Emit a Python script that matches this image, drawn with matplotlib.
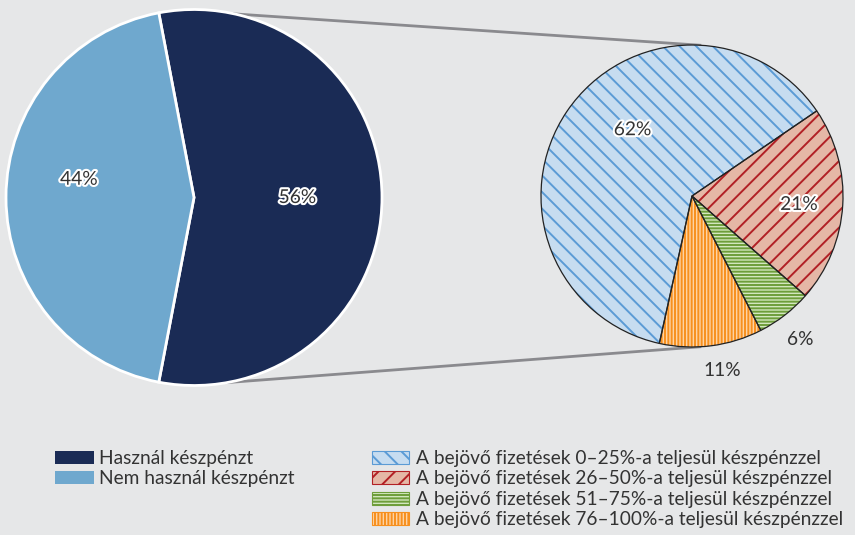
import matplotlib
matplotlib.use("Agg")
import matplotlib.pyplot as plt
import matplotlib.patheffects as pe
from matplotlib.patches import Patch
import numpy as np

plt.rcParams['font.family'] = ['Lato', 'DejaVu Sans']
plt.rcParams['hatch.linewidth'] = 1.4

# ---- data ----
main_labels = ["Használ készpénzt", "Nem használ készpénzt"]
main_values = [56, 44]
sub_labels = ["A bejövő fizetések 0–25%-a teljesül készpénzzel",
              "A bejövő fizetések 26–50%-a teljesül készpénzzel",
              "A bejövő fizetések 51–75%-a teljesül készpénzzel",
              "A bejövő fizetések 76–100%-a teljesül készpénzzel"]
sub_values = [62, 21, 6, 11]

# ---- style ----
BG = "#E6E7E8"
main_colors = ["#1A2B55", "#6FA8CE"]
sub_faces = ["#C6DCF0", "#E5B7A6", "#D2E6BE", "#FDD3A4"]
sub_hatch_colors = ["#5B9BD5", "#B22025", "#6E9E3A", "#F7901E"]
sub_hatches = ["\\\\", "//", "-----", "|||||"]
TXT = "#333333"
FS = 13.8

W, H = 855, 535
fig = plt.figure(figsize=(W / 100, H / 100), dpi=100, facecolor=BG)
ax = fig.add_axes([0, 0, 1, 1])
ax.set_facecolor(BG)

c1, r1 = (194, 337.5), 188
c2, r2 = (692, 339), 151

# left pie
wl, _ = ax.pie(main_values, colors=main_colors, startangle=-100.8, counterclock=True,
               center=c1, radius=r1, wedgeprops=dict(edgecolor="white", linewidth=2))
# right pie
wr, _ = ax.pie(sub_values, colors=sub_faces, startangle=257.5, counterclock=False,
               center=c2, radius=r2, wedgeprops=dict(linewidth=0))
for w, hc, h in zip(wr, sub_hatch_colors, sub_hatches):
    w.set_edgecolor(hc)
    w.set_hatch(h)
    w.set_linewidth(0)
wo, _ = ax.pie(sub_values, colors=["none"] * 4, startangle=257.5, counterclock=False,
               center=c2, radius=r2, wedgeprops=dict(edgecolor="#222222", linewidth=0.9,
                                                     fill=False))
ax.set_xlim(0, W)
ax.set_ylim(0, H)
ax.set_aspect('equal')
ax.axis('off')

main_frac = [0.55, 0.62]
main_doff = [0, -9]
for w, v, f, d in zip(wl, main_values, main_frac, main_doff):
    th = np.deg2rad((w.theta1 + w.theta2) / 2 + d)
    ax.text(c1[0] + r1 * f * np.cos(th), c1[1] + r1 * f * np.sin(th), f"{v}%",
            ha='center', va='center', fontsize=FS, color=TXT,
            path_effects=[pe.withStroke(linewidth=3, foreground='white')])

sub_frac = [0.59, 0.71, 1.19, 1.17]
sub_doff = [-14, -1, -1, 2.5]
sub_halo = [True, True, False, False]
for w, v, f, d, hl in zip(wr, sub_values, sub_frac, sub_doff, sub_halo):
    th = np.deg2rad((w.theta1 + w.theta2) / 2 + d)
    ax.text(c2[0] + r2 * f * np.cos(th), c2[1] + r2 * f * np.sin(th), f"{v}%",
            ha='center', va='center', fontsize=FS, color=TXT,
            path_effects=[pe.withStroke(linewidth=3, foreground='white')] if hl else None)

# connector lines
for a1, a2 in [(77.6, 87.0), (-79.9, -87.0)]:
    p1 = (c1[0] + r1 * np.cos(np.deg2rad(a1)), c1[1] + r1 * np.sin(np.deg2rad(a1)))
    p2 = (c2[0] + r2 * np.cos(np.deg2rad(a2)), c2[1] + r2 * np.sin(np.deg2rad(a2)))
    ax.plot([p1[0], p2[0]], [p1[1], p2[1]], color="#8A8A8E", lw=2, zorder=0.5)

# legends
h1 = [Patch(facecolor=c, edgecolor='none') for c in main_colors]
leg1 = fig.legend(h1, main_labels, loc='upper left', bbox_to_anchor=(55 / W, 1 - 450 / H),
                  frameon=False, fontsize=FS, handlelength=2.05, handleheight=0.65,
                  handletextpad=0.25, labelspacing=0.18, labelcolor=TXT, borderpad=0,
                  borderaxespad=0)
h2 = [Patch(facecolor=f, edgecolor=hc, hatch=h, linewidth=0.8)
      for f, hc, h in zip(sub_faces, sub_hatch_colors, sub_hatches)]
leg2 = fig.legend(h2, sub_labels, loc='upper left', bbox_to_anchor=(372 / W, 1 - 450 / H),
                  frameon=False, fontsize=FS, handlelength=1.95, handleheight=0.65,
                  handletextpad=0.35, labelspacing=0.18, labelcolor=TXT, borderpad=0,
                  borderaxespad=0)
fig.savefig("out.png", dpi=100, facecolor=BG)
